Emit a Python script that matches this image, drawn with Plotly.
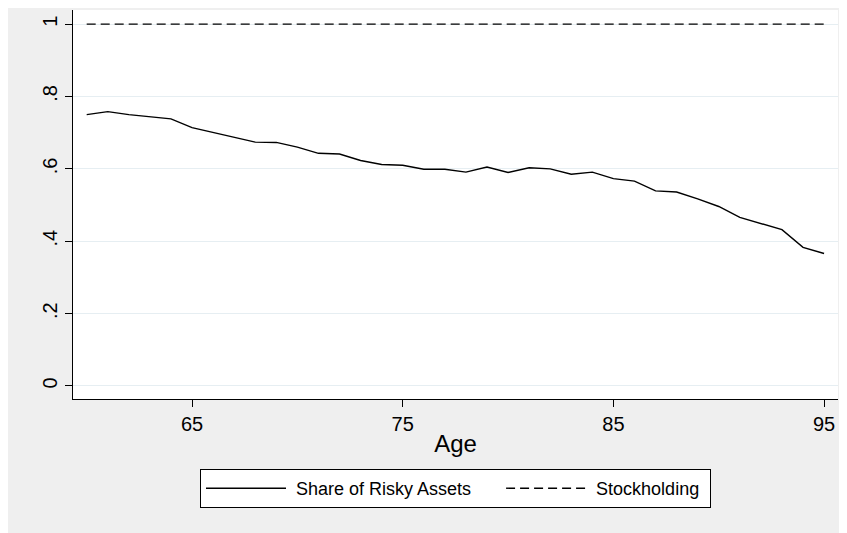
import plotly.graph_objects as go

# 年龄与风险资产占比
ages = list(range(60, 96))
risky_share = [0.750, 0.758, 0.750, 0.744, 0.738, 0.714, 0.701, 0.687, 0.674, 0.673,
               0.660, 0.643, 0.641, 0.623, 0.612, 0.610, 0.599, 0.599, 0.591, 0.605,
               0.590, 0.603, 0.600, 0.585, 0.591, 0.573, 0.566, 0.539, 0.536, 0.517,
               0.496, 0.466, 0.449, 0.432, 0.383, 0.366]
stockholding = [1.0] * len(ages)

x_ticks = [65, 75, 85, 95]
y_ticks = [0, 0.2, 0.4, 0.6, 0.8, 1]
y_tick_labels = ['0', '.2', '.4', '.6', '.8', '1']

FONT = 'Liberation Sans, Arial, sans-serif'
BG = '#efefef'
GRID = '#e6eef2'
NB = '\u00a0'  # 图例留白用不间断空格

fig = go.Figure()

fig.add_trace(go.Scatter(
    x=ages, y=risky_share, mode='lines',
    name=NB + 'Share of Risky Assets' + NB * 5,
    line=dict(color='black', width=1.4)
))
fig.add_trace(go.Scatter(
    x=ages, y=stockholding, mode='lines',
    name=NB + 'Stockholding' + NB,
    line=dict(color='black', width=1.4, dash='9px,5px')
))

# 页面 body 自带 8px 边距，所以图比窗口小 8px
fig.update_layout(
    width=839, height=525,
    margin=dict(l=65, r=9, t=2, b=134),
    paper_bgcolor=BG,
    plot_bgcolor='white',
    font=dict(family=FONT, size=20, color='black'),
    showlegend=True,
    legend=dict(
        orientation='h', x=0.5, xanchor='center', y=-0.18, yanchor='top',
        bgcolor='white', bordercolor='black', borderwidth=1,
        itemwidth=80, font=dict(family=FONT, size=18)
    ),
    xaxis=dict(
        range=[59.35, 95.66], tickvals=x_ticks,
        showgrid=False, zeroline=False,
        showline=True, linecolor='black', linewidth=1,
        ticks='outside', ticklen=7, tickcolor='black',
        title=dict(text='Age', standoff=1),
        tickfont=dict(size=20)
    ),
    yaxis=dict(
        range=[-0.036, 1.039], tickvals=y_ticks, ticktext=y_tick_labels,
        tickangle=-90,
        showgrid=True, gridcolor=GRID, gridwidth=1, zeroline=False,
        showline=True, linecolor='black', linewidth=1,
        ticks='outside', ticklen=7, tickcolor='black',
        tickfont=dict(size=20)
    )
)

fig.write_html('out.html')
